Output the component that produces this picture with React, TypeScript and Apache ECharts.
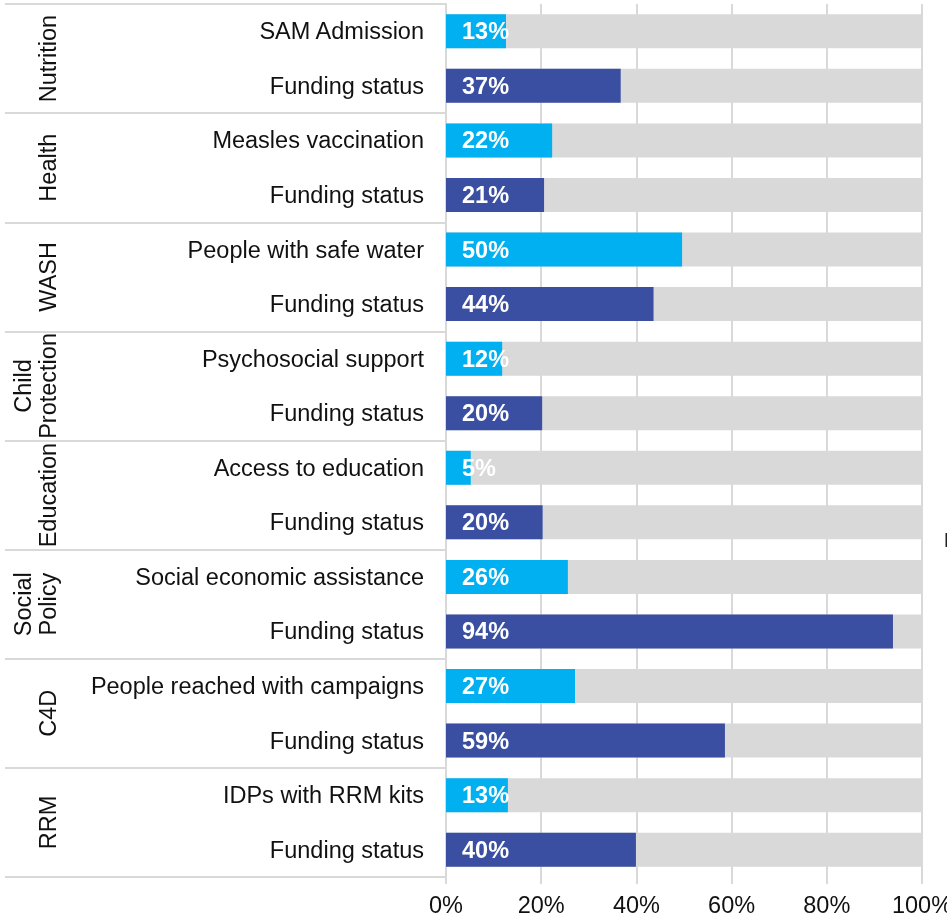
import React, { useEffect, useRef } from "react";
import * as echarts from "echarts";

const groups = ["Nutrition", "Health", "WASH", "Child\nProtection", "Education", "Social\nPolicy", "C4D", "RRM"];
const indicators = [
  "SAM Admission", "Funding status",
  "Measles vaccination", "Funding status",
  "People with safe water", "Funding status",
  "Psychosocial support", "Funding status",
  "Access to education", "Funding status",
  "Social economic assistance", "Funding status",
  "People reached with campaigns", "Funding status",
  "IDPs with RRM kits", "Funding status",
];
const values = [12.6, 36.7, 22.3, 20.6, 49.6, 43.6, 11.8, 20.2, 5.2, 20.3, 25.6, 93.9, 27.1, 58.6, 13.0, 39.9];
const kinds = ["result", "funding", "result", "funding", "result", "funding", "result", "funding", "result", "funding", "result", "funding", "result", "funding", "result", "funding"];
const xTicks = [0, 20, 40, 60, 80, 100];

const COLORS: Record<string, string> = { result: "#00B0F0", funding: "#3A4FA1" };
const FONT = 'Arial, "Liberation Sans", sans-serif';
const FS = 23.5;

export default function App() {
  const ref = useRef<HTMLDivElement>(null);
  useEffect(() => {
    if (!ref.current) return;
    const chart = echarts.init(ref.current, null, { renderer: "svg" });
    chart.setOption({
      animation: false,
      textStyle: { fontFamily: FONT },
      grid: { left: 446, right: 25, top: 4, bottom: 40, containLabel: false, outerBoundsMode: "none" },
      xAxis: {
        type: "value",
        min: xTicks[0],
        max: xTicks[xTicks.length - 1],
        interval: 20,
        axisLine: { show: false },
        axisTick: { show: true, length: 7, lineStyle: { color: "#D9D9D9", width: 2 } },
        splitLine: { show: true, lineStyle: { color: "#D9D9D9", width: 2 } },
        axisLabel: { formatter: "{value}%", fontSize: FS, color: "#111", margin: 16, fontFamily: FONT },
      },
      yAxis: [
        {
          type: "category",
          data: indicators,
          inverse: true,
          axisLine: { show: true, lineStyle: { color: "#D9D9D9", width: 2 } },
          axisTick: { show: false },
          axisLabel: { fontSize: FS, color: "#111", margin: 22, fontFamily: FONT },
        },
        {
          type: "category",
          data: groups,
          inverse: true,
          position: "left",
          offset: 0,
          axisLine: { show: false },
          axisTick: { show: true, length: 441, lineStyle: { color: "#D9D9D9", width: 2 } },
          axisLabel: {
            rotate: 90,
            margin: 386,
            fontSize: FS,
            lineHeight: 25,
            color: "#111",
            fontFamily: FONT,
            interval: 0,
          },
        },
      ],
      series: [
        {
          type: "bar",
          yAxisIndex: 0,
          barWidth: 34,
          showBackground: true,
          backgroundStyle: { color: "#D9D9D9" },
          data: values.map((v, i) => ({ value: v, itemStyle: { color: COLORS[kinds[i]] } })),
          label: {
            show: true,
            position: "insideLeft",
            distance: 16,
            color: "#fff",
            fontWeight: "bold",
            fontSize: FS,
            fontFamily: FONT,
            formatter: (p: any) => Math.round(p.value) + "%",
          },
        },
      ],
      graphic: [
        { type: "rect", right: 0, top: 533, shape: { width: 1.5, height: 14 }, style: { fill: "#222" } },
      ],
    });
    return () => chart.dispose();
  }, []);
  return <div ref={ref} style={{ position: "fixed", left: 0, top: 0, width: 947, height: 917 }} />;
}
